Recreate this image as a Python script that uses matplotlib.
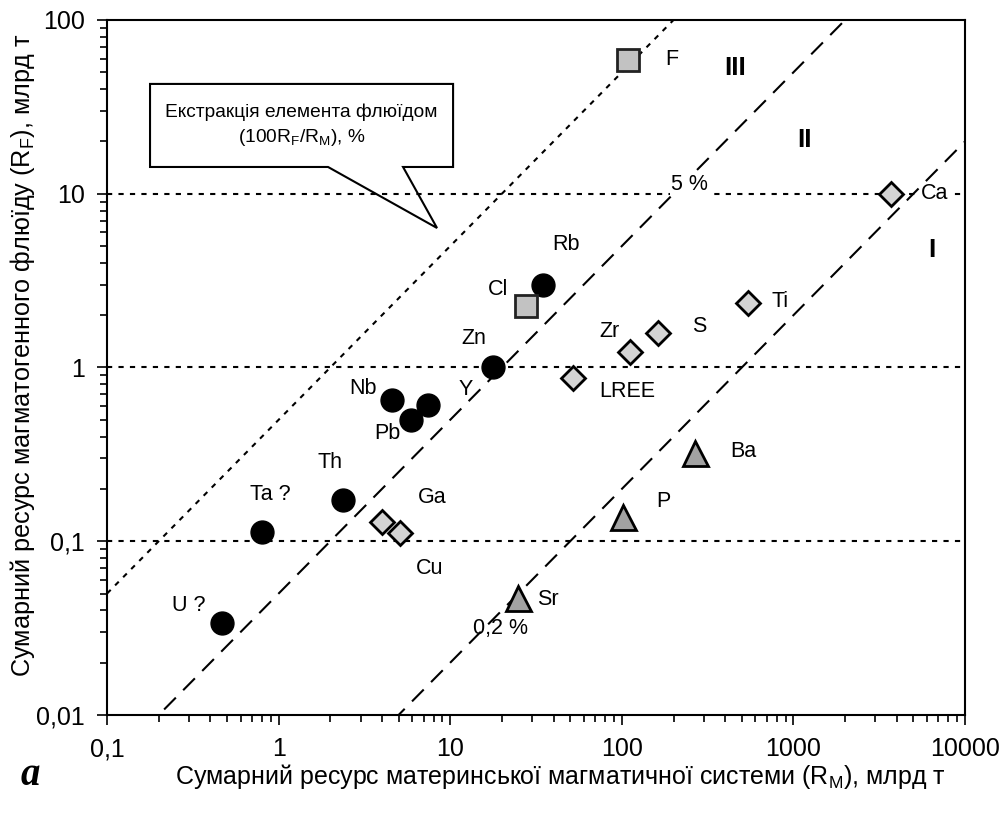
import numpy as np
import matplotlib
matplotlib.use("Agg")
import matplotlib.pyplot as plt
from matplotlib.patches import Polygon

plt.rcParams['font.family'] = ['Liberation Sans', 'DejaVu Sans']
plt.rcParams['mathtext.fontset'] = 'custom'
plt.rcParams['mathtext.rm'] = 'Liberation Sans'

# --- data (R_M, R_F in billion t) ---
circle_names = ['U ?', 'Ta ?', 'Th', 'Nb', 'Pb', 'Y', 'Zn', 'Rb']
circle_rm = [0.47, 0.80, 2.37, 4.56, 5.9, 7.4, 17.7, 34.6]
circle_rf = [0.034, 0.113, 0.173, 0.65, 0.50, 0.61, 1.0, 3.0]

square_names = ['Cl', 'F']
square_rm = [27.5, 109]
square_rf = [2.26, 59]

diamond_names = ['Ga', 'Cu', 'LREE', 'Zr', 'S', 'Ti', 'Ca']
diamond_rm = [4.0, 5.1, 51.7, 112, 162, 541, 3680]
diamond_rf = [0.129, 0.111, 0.87, 1.23, 1.58, 2.35, 10.0]

triangle_names = ['Sr', 'P', 'Ba']
triangle_rm = [24.7, 102, 267]
triangle_rf = [0.047, 0.138, 0.322]

# extraction ratio lines R_F = k * R_M
ratio_dotted = 0.5
ratio_dashed = [0.05, 0.002]
levels_h = [10, 1, 0.1]

x_ticks = [0.1, 1, 10, 100, 1000, 10000]
x_ticklabels = ['0,1', '1', '10', '100', '1000', '10000']
y_ticks = [0.01, 0.1, 1, 10, 100]
y_ticklabels = ['0,01', '0,1', '1', '10', '100']

# label offsets in points (layout)
circle_off = [(-24, 12), (6, 27), (-9, 27), (-21, 8), (-17, -10), (27, 11), (-14, 21), (17, 29)]
square_off = [(-20, 12), (31, 0)]
diamond_off = [(36, 18), (21, -25), (39, -10), (-15, 15), (30, 5), (23, 1), (32, 0)]
triangle_off = [(22, -1), (29, 11), (35, 1)]

fig = plt.figure(figsize=(10.06, 8.16), dpi=100)
ax = fig.add_axes([0.1064, 0.1238, 0.8529, 0.8517])
ax.set_xscale('log')
ax.set_yscale('log')
ax.set_xlim(0.1, 10000)
ax.set_ylim(0.01, 100)

xx = np.array([0.1, 10000])
for lv in levels_h:
    ax.plot(xx, [lv, lv], color='black', lw=1.5, linestyle=(0, (2.5, 3)), zorder=2)
ax.plot(xx, ratio_dotted * xx, color='black', lw=1.5, linestyle=(0, (2.5, 3)), zorder=2)
for k in ratio_dashed:
    ax.plot(xx, k * xx, color='black', lw=1.5, linestyle=(0, (8, 5)), zorder=2)

ax.plot(circle_rm, circle_rf, 'o', ms=16.5, mfc='black', mec='black', zorder=4)
ax.plot(square_rm, square_rf, 's', ms=15.5, mfc='#c2c2c2', mec='#222222', mew=2, zorder=4)
ax.plot(diamond_rm, diamond_rf, 'D', ms=12.5, mfc='#d4d4d4', mec='black', mew=2, zorder=4)
ax.plot(triangle_rm, triangle_rf, '^', ms=18, mfc='#a2a2a2', mec='black', mew=2, zorder=4)

lab_kw = dict(textcoords='offset points', ha='center', va='center', fontsize=15.5, zorder=5)
for names, xs, ys, offs in [(circle_names, circle_rm, circle_rf, circle_off),
                            (square_names, square_rm, square_rf, square_off),
                            (diamond_names, diamond_rm, diamond_rf, diamond_off),
                            (triangle_names, triangle_rm, triangle_rf, triangle_off)]:
    for n, x, y, o in zip(names, xs, ys, offs):
        t = ax.annotate(n, (x, y), xytext=o, **lab_kw)
        if n == 'Ca':
            t.set_bbox(dict(fc='white', ec='none', pad=1))

# zone numbers and ratio labels
for s, px, py in [('III', 0.732, 0.931), ('II', 0.813, 0.827), ('I', 0.961, 0.669)]:
    ax.text(px, py, s, transform=ax.transAxes, fontsize=19, fontweight='bold',
            ha='center', va='center')
ax.text(0.679, 0.763, '5 %', transform=ax.transAxes, fontsize=15.5, ha='center', va='center',
        bbox=dict(fc='white', ec='none', pad=1), zorder=3)
ax.text(0.458, 0.125, '0,2 %', transform=ax.transAxes, fontsize=15.5, ha='center', va='center')

# callout box
callout = [(0.0501, 0.908), (0.4033, 0.908), (0.4033, 0.7885), (0.345, 0.7885),
           (0.3846, 0.7007), (0.2576, 0.7885), (0.0501, 0.7885)]
ax.add_patch(Polygon(callout, closed=True, transform=ax.transAxes, fc='white',
                     ec='black', lw=1.5, zorder=1))
ax.text(0.2267, 0.848, 'Екстракція елемента флюїдом\n(100R$_\\mathregular{F}$/R$_\\mathregular{M}$), %',
        transform=ax.transAxes, fontsize=13.8, ha='center', va='center', linespacing=1.45, zorder=3)

ax.set_xticks(x_ticks)
ax.set_xticklabels(x_ticklabels)
ax.set_yticks(y_ticks)
ax.set_yticklabels(y_ticklabels)
ax.tick_params(which='major', direction='out', length=7, width=1.2, labelsize=18, pad=9)
ax.tick_params(which='minor', direction='out', length=5, width=1.2)
for sp in ax.spines.values():
    sp.set_linewidth(1.5)

fig.text(0.5566, 0.048, 'Сумарний ресурс материнської магматичної системи (R$_\\mathregular{M}$), млрд т',
         fontsize=18, ha='center', va='center')
fig.text(0.022, 0.565, 'Сумарний ресурс магматогенного флюїду (R$_\\mathregular{F}$), млрд т',
         fontsize=18.2, ha='center', va='center', rotation=90)
fig.text(0.03, 0.05, 'a', fontsize=28, family='Liberation Serif', fontweight='bold',
         fontstyle='italic', ha='center', va='center')

fig.savefig('out.png', dpi=100)
